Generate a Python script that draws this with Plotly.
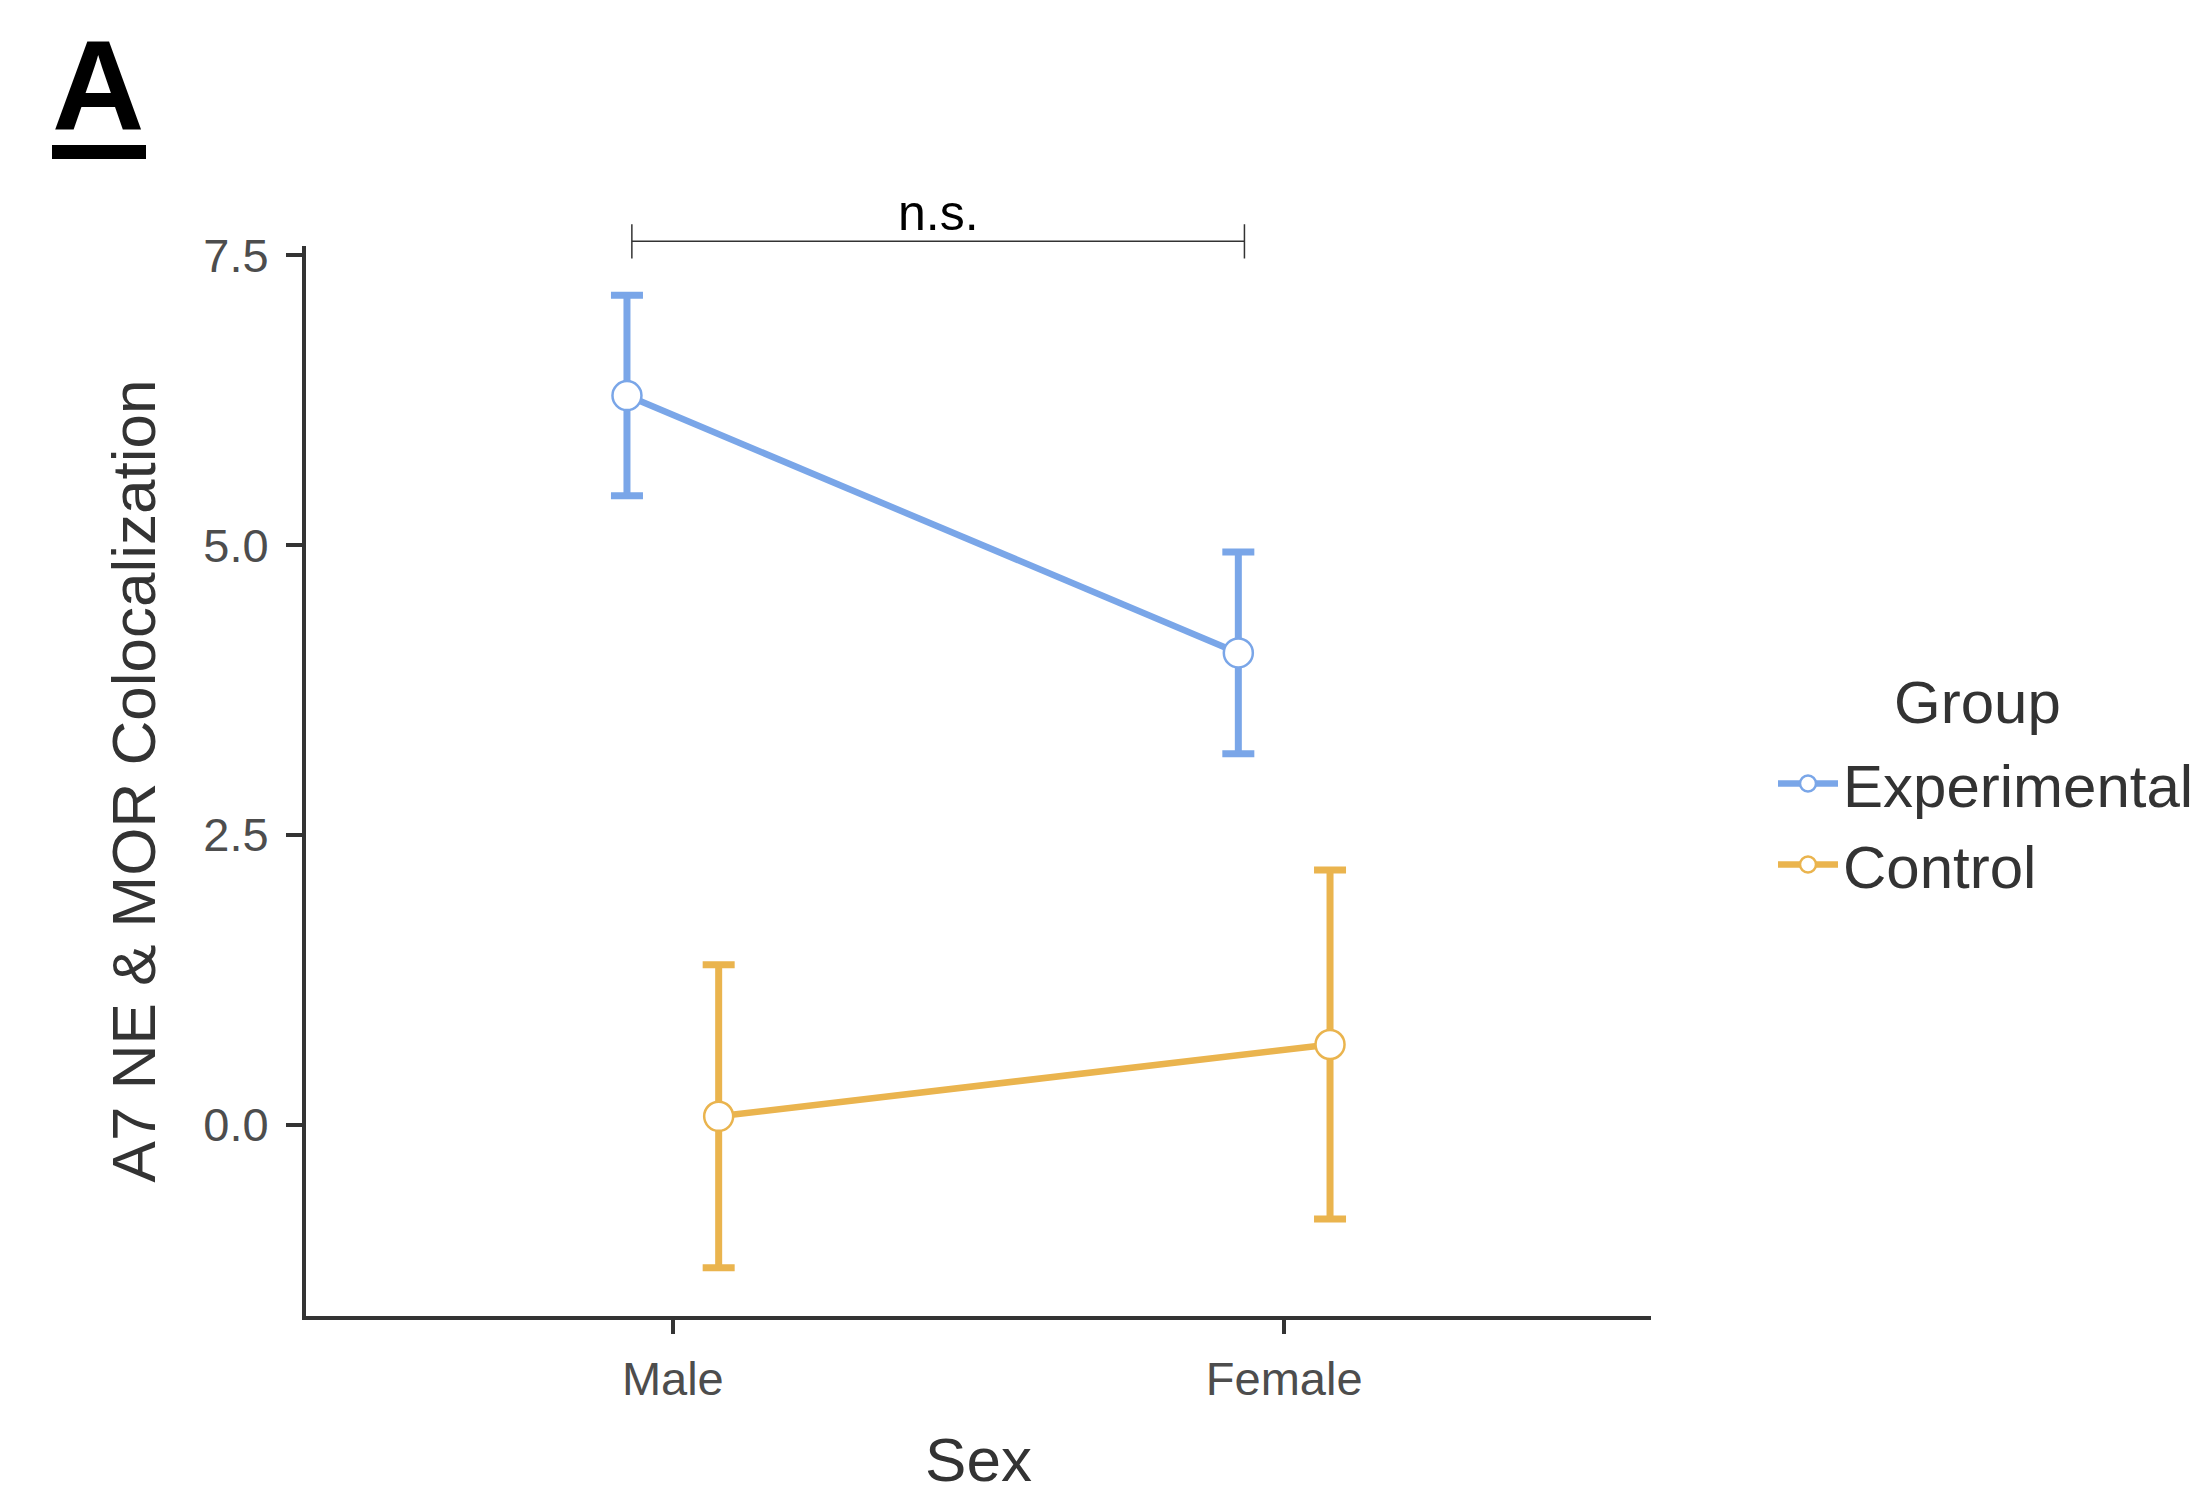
import plotly.graph_objects as go

# ---- data ----
sex = ["Male", "Female"]
sex_pos = [1, 2]
groups = ["Experimental", "Control"]
legend_title = "Group"
exp_mean = [6.29, 4.07]
exp_err = [0.865, 0.87]
ctrl_mean = [0.073, 0.692]
ctrl_err = [1.306, 1.506]
y_ticks = [0.0, 2.5, 5.0, 7.5]
bracket_x = [0.933, 1.935]
bracket_y = 7.62
bracket_label = "n.s."

# ---- style ----
W, H = 2203, 1486
OFF = 8  # page body margin
L, R, T, B = 298, 560, 238, 178
dodge = 0.075
xr = [0.4, 2.6]
yr = [-1.65, 7.58]
blue = "#7AA6E8"
orange = "#EAB44E"
FONT = "Liberation Sans, Arial, Helvetica, sans-serif"

plot_w = W - L - R
plot_h = H - T - B


def px_to_paper_x(px):
    return (px - OFF - L) / plot_w


def px_to_paper_y(py):
    return (H - B - (py - OFF)) / plot_h


def data_to_paper_y(v):
    return (v - yr[0]) / (yr[1] - yr[0])


fig = go.Figure()

for name, mean, err, col, off in [
    (groups[0], exp_mean, exp_err, blue, -dodge),
    (groups[1], ctrl_mean, ctrl_err, orange, dodge),
]:
    fig.add_trace(go.Scatter(
        x=[p + off for p in sex_pos],
        y=mean,
        name=name,
        mode="lines+markers",
        line=dict(color=col, width=6.5),
        marker=dict(symbol="circle", size=29, color="white",
                    line=dict(color=col, width=2.5)),
        error_y=dict(type="data", array=err, visible=True,
                     color=col, thickness=7, width=16),
        cliponaxis=False,
    ))

# significance bracket
by = data_to_paper_y(bracket_y)
tick_h = 0.016
fig.add_shape(type="line", xref="x", yref="paper",
              x0=bracket_x[0], x1=bracket_x[1], y0=by, y1=by,
              line=dict(color="#333333", width=1.5))
for bx in bracket_x:
    fig.add_shape(type="line", xref="x", yref="paper",
                  x0=bx, x1=bx, y0=by - tick_h, y1=by + tick_h,
                  line=dict(color="#333333", width=1.5))
fig.add_annotation(x=(bracket_x[0] + bracket_x[1]) / 2, xref="x",
                   y=by, yref="paper", yanchor="bottom", yshift=-2,
                   text=bracket_label, showarrow=False,
                   font=dict(family=FONT, size=50, color="black"))

# panel label "A" with thick underline
fig.add_annotation(x=px_to_paper_x(98), xref="paper",
                   y=px_to_paper_y(86), yref="paper",
                   xanchor="center", yanchor="middle",
                   text="<b>A</b>", showarrow=False,
                   font=dict(family=FONT, size=128, color="black"))
fig.add_shape(type="rect", xref="paper", yref="paper",
              x0=px_to_paper_x(52), x1=px_to_paper_x(146),
              y0=px_to_paper_y(159), y1=px_to_paper_y(145),
              line=dict(width=0), fillcolor="black")

# legend title
fig.add_annotation(x=px_to_paper_x(1977), xref="paper",
                   y=px_to_paper_y(702), yref="paper",
                   xanchor="center", yanchor="middle",
                   text=legend_title, showarrow=False,
                   font=dict(family=FONT, size=60, color="#333333"))

fig.update_layout(
    width=W, height=H,
    margin=dict(l=L, r=R, t=T, b=B, autoexpand=False),
    paper_bgcolor="white", plot_bgcolor="white",
    font=dict(family=FONT, color="#333333"),
    showlegend=True,
    legend=dict(
        font=dict(family=FONT, size=60, color="#333333"),
        x=px_to_paper_x(1773), xanchor="left",
        y=px_to_paper_y(824), yanchor="middle",
        bgcolor="rgba(0,0,0,0)", borderwidth=0,
        itemwidth=60,
        tracegroupgap=0,
    ),
    xaxis=dict(
        range=xr, tickmode="array", tickvals=sex_pos, ticktext=sex,
        showgrid=False, zeroline=False,
        showline=True, linecolor="#333333", linewidth=4,
        ticks="outside", ticklen=14, tickwidth=4, tickcolor="#333333",
        tickfont=dict(family=FONT, size=47, color="#4D4D4D"),
        ticklabelstandoff=5,
        title=dict(text="Sex", standoff=64,
                   font=dict(family=FONT, size=62, color="#333333")),
    ),
    yaxis=dict(
        range=yr, tickmode="array", tickvals=y_ticks,
        ticktext=[f"{v:.1f}" for v in y_ticks],
        showgrid=False, zeroline=False,
        showline=True, linecolor="#333333", linewidth=4,
        ticks="outside", ticklen=16, tickwidth=4, tickcolor="#333333",
        tickfont=dict(family=FONT, size=47, color="#4D4D4D"),
        ticklabelstandoff=8,
        title=dict(text="A7 NE &amp; MOR Colocalization", standoff=29,
                   font=dict(family=FONT, size=62, color="#333333")),
    ),
)

fig.write_html("out.html", config={"displayModeBar": False})
